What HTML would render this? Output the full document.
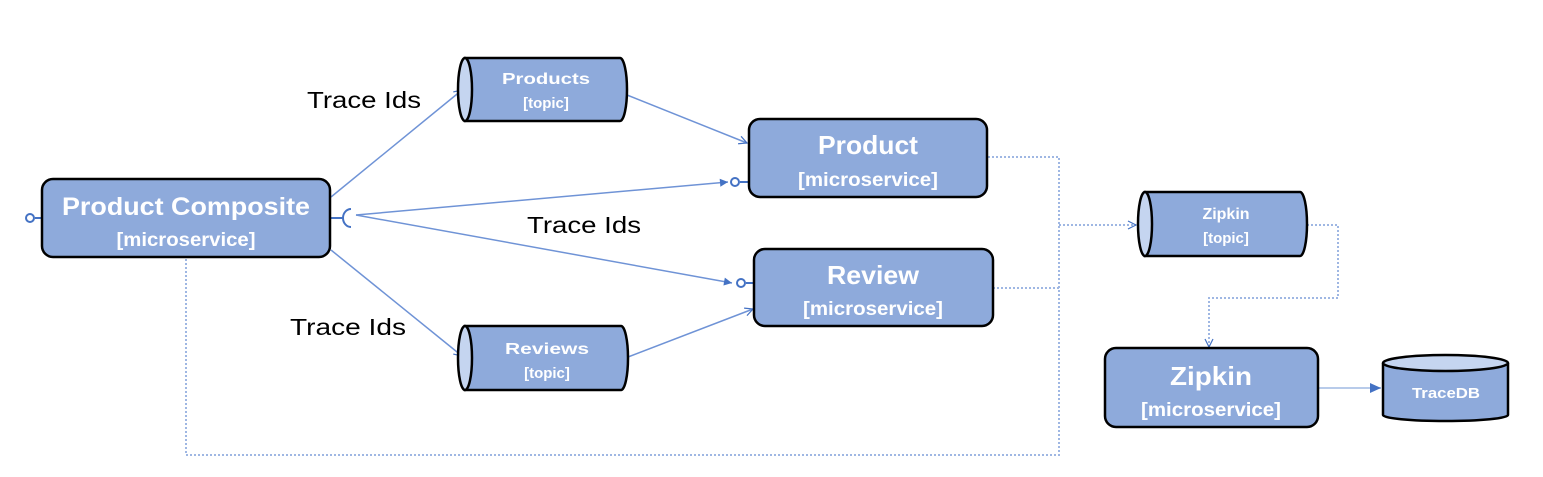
<!DOCTYPE html>
<html><head><meta charset="utf-8"><style>
html,body{margin:0;padding:0;background:#fff;}
svg{display:block;}
text{font-family:"Liberation Sans",sans-serif;}
.w{fill:#fff;font-weight:bold;text-anchor:middle;}
.l{fill:#000;font-size:23px;}
</style></head><body>
<svg width="1543" height="477" viewBox="0 0 1543 477" xmlns="http://www.w3.org/2000/svg">
<defs>
<marker id="oa" markerWidth="10" markerHeight="10" refX="9" refY="5" orient="auto" markerUnits="userSpaceOnUse"><path d="M1,1 L9,5 L1,9" fill="none" stroke="#4472c4" stroke-width="1.2"/></marker>
<marker id="fa" markerWidth="10" markerHeight="10" refX="9" refY="5" orient="auto" markerUnits="userSpaceOnUse"><path d="M1,1 L9,5 L1,9 Z" fill="#4472c4"/></marker>
</defs>
<g stroke="#9fb7e3" stroke-width="2" stroke-dasharray="2,2" fill="none">
<path d="M988,157 H1059 V455 H186 V257"/>
<path d="M993,288 H1059"/>
<path d="M1059,225 H1136" marker-end="url(#oa)"/>
<path d="M1307,225 H1338 V298 H1209 V347" marker-end="url(#oa)"/>
</g>
<g stroke="#6f93d6" stroke-width="1.5" fill="none">
<path d="M331,197 L462,90" marker-end="url(#oa)"/>
<path d="M331,250 L462,356" marker-end="url(#oa)"/>
<path d="M627,95 L747,143" marker-end="url(#oa)"/>
<path d="M628,357 L753,309" marker-end="url(#oa)"/>
<path d="M356,215 L728,182" marker-end="url(#fa)"/>
<path d="M356,215 L732,283" marker-end="url(#fa)"/>
<path d="M1318,388 L1381,388" stroke="#b8cbea" stroke-width="2"/>
</g>
<path d="M1370,383 L1381,388 L1370,393Z" fill="#4472c4"/>
<g stroke="#4472c4" stroke-width="2" fill="#fff">
<line x1="35" y1="218" x2="42" y2="218"/><circle cx="30" cy="218" r="4"/>
<line x1="330" y1="218" x2="343" y2="218"/>
<path d="M351,209 A8,9 0 0 0 351,227" fill="none"/>
<line x1="740" y1="182" x2="749" y2="182"/><circle cx="735" cy="182" r="4"/>
<line x1="746" y1="283" x2="754" y2="283"/><circle cx="741" cy="283" r="4"/>
</g>
<g fill="#8eaadb" stroke="#000" stroke-width="2.5">
<rect x="42" y="179" width="288" height="78" rx="11"/>
<rect x="749" y="119" width="238" height="78" rx="11"/>
<rect x="754" y="249" width="239" height="77" rx="11"/>
<rect x="1105" y="348" width="213" height="79" rx="11"/>
<path d="M465,58 H620 A7,31.5 0 0 1 620,121 H465 Z"/>
<ellipse cx="465" cy="89.5" rx="7" ry="31.5" fill="#c5d5f0"/>
<path d="M465,326 H621 A7,32 0 0 1 621,390 H465 Z"/>
<ellipse cx="465" cy="358" rx="7" ry="32" fill="#c5d5f0"/>
<path d="M1145,192 H1300 A7,32 0 0 1 1300,256 H1145 Z"/>
<ellipse cx="1145" cy="224" rx="7" ry="32" fill="#c5d5f0"/>
<path d="M1383,363 V415 A62.5,6 0 0 0 1508,415 V363"/>
<ellipse cx="1445.5" cy="363" rx="62.5" ry="8" fill="#c5d5f0"/>
</g>
<text class="w" x="186" y="215" font-size="25" textLength="248" lengthAdjust="spacingAndGlyphs">Product Composite</text>
<text class="w" x="186" y="246" font-size="19" textLength="139" lengthAdjust="spacingAndGlyphs">[microservice]</text>
<text class="w" x="868" y="154" font-size="26" textLength="100" lengthAdjust="spacingAndGlyphs">Product</text>
<text class="w" x="868" y="186" font-size="19" textLength="140" lengthAdjust="spacingAndGlyphs">[microservice]</text>
<text class="w" x="873" y="284" font-size="26" textLength="92" lengthAdjust="spacingAndGlyphs">Review</text>
<text class="w" x="873" y="315" font-size="19" textLength="140" lengthAdjust="spacingAndGlyphs">[microservice]</text>
<text class="w" x="1211" y="385" font-size="26" textLength="82" lengthAdjust="spacingAndGlyphs">Zipkin</text>
<text class="w" x="1211" y="416" font-size="19" textLength="140" lengthAdjust="spacingAndGlyphs">[microservice]</text>
<text class="w" x="546" y="84" font-size="16" textLength="88" lengthAdjust="spacingAndGlyphs">Products</text>
<text class="w" x="546" y="108" font-size="15">[topic]</text>
<text class="w" x="547" y="354" font-size="16" textLength="84" lengthAdjust="spacingAndGlyphs">Reviews</text>
<text class="w" x="547" y="378" font-size="15">[topic]</text>
<text class="w" x="1226" y="219" font-size="16">Zipkin</text>
<text class="w" x="1226" y="243" font-size="15">[topic]</text>
<text class="w" x="1446" y="398" font-size="15" textLength="68" lengthAdjust="spacingAndGlyphs">TraceDB</text>
<text class="l" x="307" y="108" textLength="114" lengthAdjust="spacingAndGlyphs">Trace Ids</text>
<text class="l" x="527" y="233" textLength="114" lengthAdjust="spacingAndGlyphs">Trace Ids</text>
<text class="l" x="290" y="335" textLength="116" lengthAdjust="spacingAndGlyphs">Trace Ids</text>
</svg>
</body></html>
